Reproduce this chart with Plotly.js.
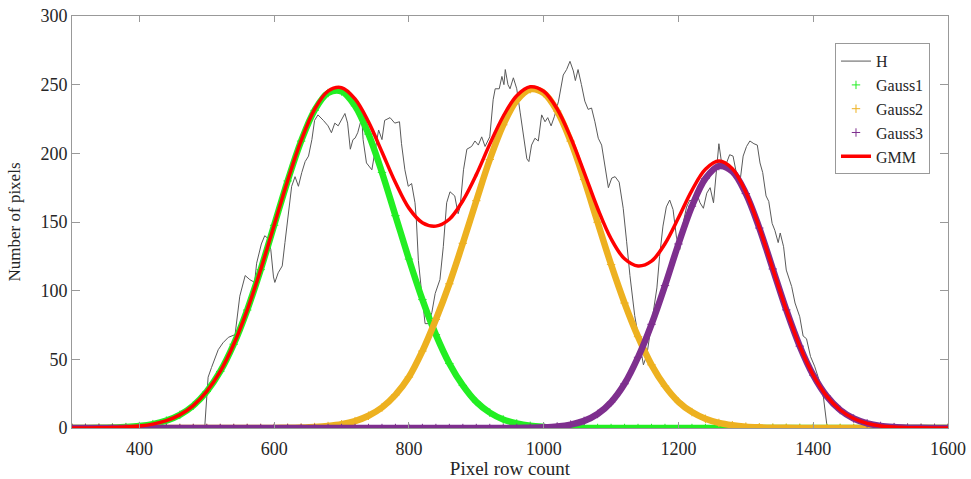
<!DOCTYPE html>
<html>
<head>
<meta charset="utf-8">
<script src="https://cdn.plot.ly/plotly-3.0.1.min.js"></script>
<style>html,body{margin:0;padding:0;background:#fff;}#chart{width:971px;height:479px;}</style>
</head>
<body>
<div id="chart"></div>
<script>
// Histogram H
const hX = [300,494,497,502,507,517,524,532,542,544,549,557,564,571,574,581,586,591,595,599,601,606,612,616,621,626,631,636,641,646,651,656,660,665,673,680,685,690,695,700,705,709,713,717,720,724,730,732,737,745,750,755,760,764,772,779,786,789,794,799,804,809,811,814,819,824,829,834,839,846,851,856,861,868,873,876,881,886,893,898,903,908,913,920,925,928,934,938,941,943,947,950,955,960,965,970,975,978,982,987,992,997,1002,1006,1011,1016,1022,1029,1034,1039,1044,1047,1051,1056,1061,1066,1071,1076,1081,1086,1091,1096,1101,1106,1112,1118,1123,1128,1135,1143,1148,1153,1160,1168,1172,1177,1182,1187,1192,1197,1202,1207,1212,1217,1222,1227,1232,1237,1242,1247,1252,1257,1260,1264,1269,1276,1281,1287,1291,1296,1301,1306,1312,1317,1321,1325,1330,1334,1339,1343,1348,1351,1356,1360,1368,1373,1380,1385,1390,1396,1402,1410,1415,1420,1422,1600];
const hY = [0,0,1,37,44,57,62,66,68,76,96,111,108,106,120,134,140,138,130,110,106,113,118,135,154,176,183,176,186,194,198,210,224,228,224,220,215,222,220,224,229,222,203,210,211,215,226,210,193,188,203,217,210,224,226,222,223,207,188,176,178,164,152,122,98,76,76,84,98,108,132,164,172,169,156,161,188,203,205,209,206,212,205,212,239,247,247,256,250,261,250,247,255,247,230,213,196,194,206,211,209,228,223,226,220,227,238,257,261,267,260,253,261,250,238,232,233,223,211,206,192,175,182,183,179,160,136,111,82,61,46,53,77,102,125,147,161,166,159,139,130,149,161,166,164,171,164,160,171,175,164,190,207,193,190,199,198,183,178,198,205,209,207,206,193,186,169,165,149,144,135,142,132,115,103,91,81,67,65,52,45,33,23,3,0,0];

const gX = [300,320,340,360,380,400,420,440,460,480,500,520,540,560,580,600,620,640,660,680,700,720,740,760,780,800,820,840,860,880,900,920,940,960,980,1000,1020,1040,1060,1080,1100,1120,1140,1160,1180,1200,1220,1240,1260,1280,1300,1320,1340,1360,1380,1400,1420,1440,1460,1480,1500,1520,1540,1560,1580,1600];
const gauss1 = [0.02,0.06,0.14,0.32,0.69,1.43,2.82,5.32,9.54,16.3,26.6,41.2,61.0,85.9,115.3,147.6,179.9,208.9,231.3,243.9,245.1,234.6,214.0,186.1,154.6,123.0,93.5,68.0,47.0,31.0,19.0,11.2,6.2,3.3,1.6,0.8,0.37,0.16,0.07,0.03,0.01,0,0,0,0,0,0,0,0,0,0,0,0,0,0,0,0,0,0,0,0,0,0,0,0,0];
const gauss2 = [0,0,0,0,0,0,0,0,0,0,0,0,0,0.01,0.03,0.07,0.15,0.34,0.71,1.43,2.7,5.0,8.9,14.9,24.1,37.1,56.0,79.0,105.0,134.5,165.5,195.5,220.8,238.6,246.7,243.9,230.8,208.9,180.9,149.8,119.0,91.0,66.5,46.0,30.5,19.1,11.6,6.7,3.7,2.0,1.0,0.49,0.23,0.10,0.04,0.02,0,0,0,0,0,0,0,0,0,0];
const gauss3 = [0,0,0,0,0,0,0,0,0,0,0,0,0,0,0,0,0,0,0,0,0,0,0,0,0,0,0,0,0,0,0,0,0.02,0.06,0.18,0.46,1.10,2.48,5.2,10.2,18.8,32.2,51.5,75.5,103.7,134.0,161.5,181.7,190.7,186.8,170.7,145.6,115.8,86.0,59.6,38.5,23.2,13.1,6.9,3.4,1.5,0.66,0.26,0.10,0.04,0.01];
const gmm = [0.02,0.06,0.14,0.32,0.69,1.43,2.82,5.32,9.54,16.3,26.6,41.2,61.0,85.9,115.3,147.7,180.1,209.2,232.0,245.3,247.8,239.6,222.9,201.0,178.7,160.1,149.5,147.0,152.0,165.5,184.5,206.7,227.0,242.0,248.5,245.2,232.3,211.5,186.2,160.0,137.8,123.2,118.0,121.5,134.2,153.1,173.1,188.4,194.4,188.8,171.7,146.1,116.0,86.1,59.6,38.5,23.2,13.1,6.9,3.4,1.5,0.66,0.26,0.10,0.04,0.01];

const xTicks = [400,600,800,1000,1200,1400,1600];
const yTicks = [0,50,100,150,200,250,300];

const cG1 = '#22ee22', cG2 = '#EDB120', cG3 = '#7E2F8E';

function band(y, color) {
  return {x: gX, y: y, mode: 'lines', line: {color: color, width: 6.5, shape: 'spline'}, showlegend: false, hoverinfo: 'skip'};
}
function marks(y, color, name) {
  return {x: gX, y: y, mode: 'markers', name: name,
    marker: {symbol: 'cross-thin-open', size: 6, color: color, line: {color: color, width: 1}}};
}

const traces = [
  {x: hX, y: hY, mode: 'lines', name: 'H', line: {color: '#5a5a5a', width: 1}},
  band(gauss1, cG1), marks(gauss1, cG1, 'Gauss1'),
  band(gauss2, cG2), marks(gauss2, cG2, 'Gauss2'),
  band(gauss3, cG3), marks(gauss3, cG3, 'Gauss3'),
  {x: gX, y: gmm, mode: 'lines', name: 'GMM', line: {color: '#ff0000', width: 3.5, shape: 'spline'}}
];

const fam = 'Liberation Serif, Times New Roman, serif';
const txt = '#262626';
const layout = {
  width: 971, height: 479,
  margin: {l: 72, r: 23, t: 16, b: 51},
  paper_bgcolor: '#fff', plot_bgcolor: '#fff',
  font: {family: fam, size: 18, color: txt},
  showlegend: true,
  xaxis: {
    range: [300, 1600], tickvals: xTicks, ticktext: xTicks.map(String),
    ticks: 'inside', ticklen: 6, tickcolor: '#999', tickwidth: 1,
    showline: true, linecolor: '#999', linewidth: 1, mirror: 'ticks',
    showgrid: false, zeroline: false, ticklabelstandoff: 4,
    tickfont: {family: fam, size: 18, color: txt},
    title: {text: 'Pixel row count', font: {family: fam, size: 19, color: txt}, standoff: 2}
  },
  yaxis: {
    range: [0, 300], tickvals: yTicks, ticktext: yTicks.map(String),
    ticks: 'inside', ticklen: 8, tickcolor: '#999', tickwidth: 1,
    showline: true, linecolor: '#999', linewidth: 1, mirror: 'ticks',
    showgrid: false, zeroline: false,
    tickfont: {family: fam, size: 18, color: txt},
    title: {text: 'Number of pixels', font: {family: fam, size: 17, color: txt}, standoff: 15}
  },
  legend: {
    x: 0.871, y: 0.934, xanchor: 'left', yanchor: 'top',
    bgcolor: '#fff', bordercolor: '#999', borderwidth: 1,
    font: {family: fam, size: 16, color: txt},
    traceorder: 'normal', tracegroupgap: 0, itemwidth: 30
  }
};

Plotly.newPlot('chart', traces, layout, {displayModeBar: false, staticPlot: true});
</script>
</body>
</html>
